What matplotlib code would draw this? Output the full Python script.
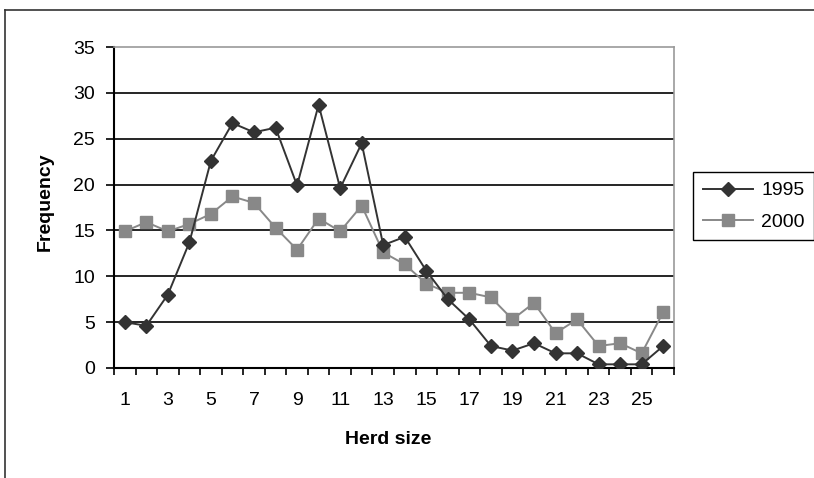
import numpy as np
import matplotlib.pyplot as plt
from matplotlib.lines import Line2D

plt.rcParams['font.family'] = ['Liberation Sans', 'DejaVu Sans']

herd_size = list(range(1, 27))
freq_1995 = [5.0, 4.6, 8.0, 13.7, 22.6, 26.7, 25.7, 26.2, 19.9, 28.7, 19.6, 24.5, 13.4,
             14.3, 10.6, 7.5, 5.3, 2.4, 1.9, 2.7, 1.6, 1.6, 0.4, 0.4, 0.4, 2.4]
freq_2000 = [14.9, 15.9, 14.9, 15.7, 16.8, 18.7, 18.0, 15.3, 12.9, 16.3, 14.9, 17.7, 12.6,
             11.3, 9.2, 8.2, 8.2, 7.7, 5.3, 7.1, 3.8, 5.3, 2.4, 2.7, 1.6, 6.1]
y_ticks = [0, 5, 10, 15, 20, 25, 30, 35]
x_labels = [str(v) for v in herd_size[::2]]

W, H = 814, 478
fig = plt.figure(figsize=(W / 100, H / 100), dpi=100)
ax = fig.add_axes([114 / W, 1 - 368 / H, (674 - 114) / W, (368 - 47) / H])

ax.plot(herd_size, freq_1995, color='#333333', lw=1.4, marker='D', ms=7,
        label='1995', zorder=4)
ax.plot(herd_size, freq_2000, color='#888888', lw=1.4, marker='s', ms=8.5,
        label='2000', zorder=3)

ax.set_xlim(0.5, 26.5)
ax.set_ylim(0, 35)
ax.set_yticks(y_ticks)
for v in y_ticks[1:-1]:
    ax.axhline(v, color='black', lw=1.2, zorder=1)

ax.set_xticks(herd_size[::2])
ax.set_xticklabels(x_labels)
ax.set_xticks(np.arange(0.5, 27, 1), minor=True)
ax.tick_params(axis='x', which='major', length=0, pad=17, labelsize=14)
ax.tick_params(axis='x', which='minor', length=5, width=1.2, direction='out')
ax.tick_params(axis='y', length=5.5, width=1.2, pad=8, labelsize=14)

for side in ['left', 'bottom']:
    ax.spines[side].set_linewidth(1.5)
    ax.spines[side].set_color('black')
for side in ['top', 'right']:
    ax.spines[side].set_linewidth(1.2)
    ax.spines[side].set_color('#999999')

fig.text(45 / W, 1 - 202 / H, 'Frequency', rotation=90, fontsize=14,
         fontweight='bold', ha='center', va='center')
fig.text(388 / W, 1 - 440 / H, 'Herd size', fontsize=14,
         fontweight='bold', ha='center', va='center')

leg = ax.legend(loc='upper left', bbox_to_anchor=(693 / W, 1 - 172 / H),
                bbox_transform=fig.transFigure, fontsize=14, frameon=True,
                fancybox=False, edgecolor='black', framealpha=1,
                handlelength=2.6, handletextpad=0.4, borderpad=0.5,
                labelspacing=0.7, borderaxespad=0)
leg.get_frame().set_linewidth(1.0)

# outer chart frame
fig.add_artist(Line2D([5 / W, 5 / W], [0, 1 - 10 / H], color='#333333', lw=1.2,
                      transform=fig.transFigure))
fig.add_artist(Line2D([5 / W, 1], [1 - 10 / H, 1 - 10 / H], color='#333333', lw=1.2,
                      transform=fig.transFigure))

fig.savefig('out.png', dpi=100)
